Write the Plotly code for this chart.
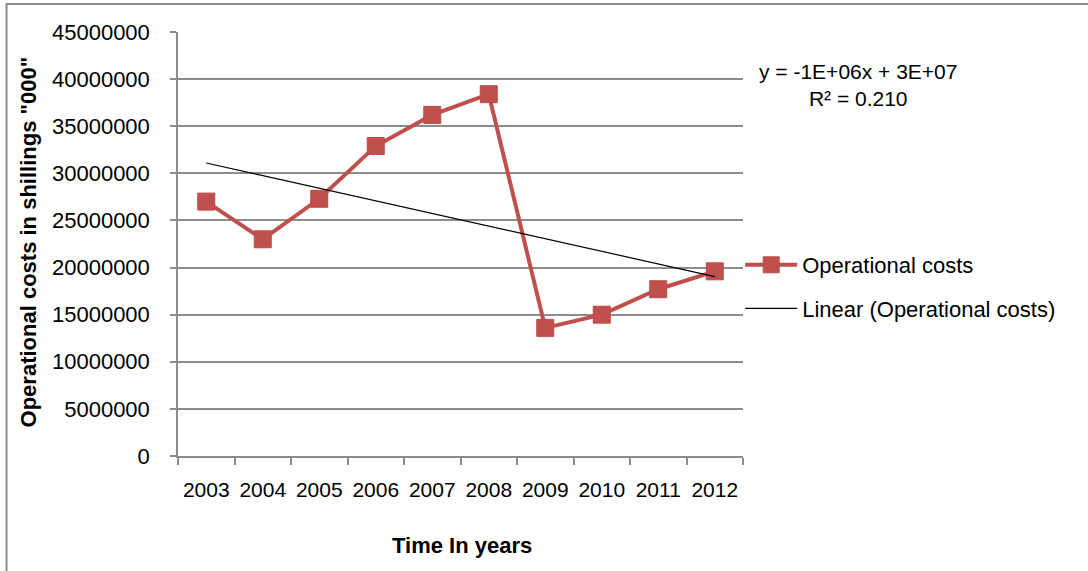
import numpy as np
import plotly.graph_objects as go

# Annual operational costs (shillings "000")
years = ["2003", "2004", "2005", "2006", "2007", "2008", "2009", "2010", "2011", "2012"]
operational_costs = [27000000, 23000000, 27300000, 32900000, 36200000,
                     38400000, 13600000, 15000000, 17700000, 19600000]
y_ticks = [0, 5000000, 10000000, 15000000, 20000000, 25000000,
           30000000, 35000000, 40000000, 45000000]
equation_text = "y = -1E+06x + 3E+07<br>R² = 0.210"

# Least-squares linear trend over the period index 1..n
idx = np.arange(1, len(years) + 1)
slope, intercept = np.polyfit(idx, operational_costs, 1)
trend = slope * idx + intercept

FONT = "Liberation Sans"
RED = "#C0504D"
GRID = "#8C8C8C"

fig = go.Figure()
fig.add_trace(go.Scatter(
    x=years, y=operational_costs, mode="lines+markers",
    name="Operational costs", legendgroup="a",
    line=dict(color=RED, width=4),
    marker=dict(symbol="square", size=17, color=RED,
                line=dict(color="#BE4B48", width=1)),
))
fig.add_trace(go.Scatter(
    x=years, y=trend, mode="lines",
    name="Linear (Operational costs)", legendgroup="b",
    line=dict(color="black", width=1.2),
))

fig.update_layout(
    width=1088, height=571,
    margin=dict(l=178, r=345, t=32, b=115),
    paper_bgcolor="white", plot_bgcolor="white",
    font=dict(family=FONT, size=22, color="black"),
    showlegend=True,
    legend=dict(
        x=0.995, xanchor="left", y=0.5, yanchor="top",
        traceorder="grouped", tracegroupgap=12,
        bgcolor="rgba(0,0,0,0)", borderwidth=0,
        font=dict(family=FONT, size=22, color="black"),
        itemwidth=52,
    ),
    xaxis=dict(
        type="category", tickson="boundaries", range=[-0.5, 9.5],
        tickangle=0,
        showgrid=False, showline=True, linecolor=GRID, linewidth=1.5,
        ticks="outside", ticklen=7, tickcolor=GRID, tickwidth=1.5,
        ticklabelstandoff=14,
        tickfont=dict(family=FONT, size=21, color="black"),
    ),
    yaxis=dict(
        range=[0, 45000000], tickvals=y_ticks,
        ticktext=[str(v) for v in y_ticks],
        showgrid=True, gridcolor=GRID, gridwidth=1.5,
        showline=True, linecolor=GRID, linewidth=1.5,
        ticks="outside", ticklen=6, tickcolor=GRID, tickwidth=1.5,
        ticklabelstandoff=16, zeroline=False,
        tickfont=dict(family=FONT, size=22, color="black"),
    ),
    annotations=[
        dict(text="<b>Operational costs in shillings \"000\"</b>",
             xref="paper", yref="paper", x=-0.2655, y=0.506,
             xanchor="center", yanchor="middle", textangle=-90,
             showarrow=False, font=dict(family=FONT, size=22)),
        dict(text="<b>Time In years</b>",
             xref="paper", yref="paper", x=0.5027, y=-0.21,
             xanchor="center", yanchor="middle",
             showarrow=False, font=dict(family=FONT, size=22)),
        dict(text=equation_text,
             xref="paper", yref="paper", x=1.2035, y=0.876,
             xanchor="center", yanchor="middle", align="center",
             showarrow=False, font=dict(family=FONT, size=21)),
    ],
    shapes=[
        dict(type="rect", xref="paper", yref="paper",
             x0=-0.3035, x1=1.62, y0=-0.3, y1=1.066,
             line=dict(color="#8A8A8A", width=2), layer="below"),
    ],
)

fig.write_html("out.html")
